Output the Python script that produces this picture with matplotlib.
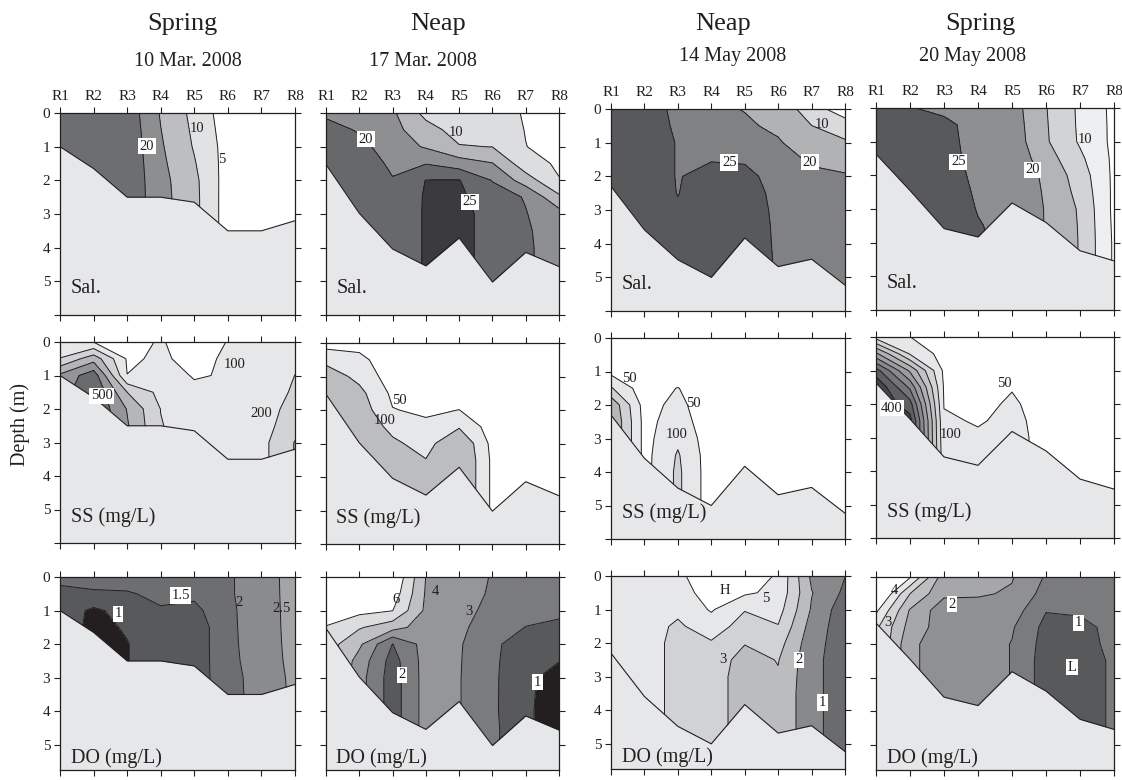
import matplotlib
matplotlib.use("Agg")
import matplotlib.pyplot as plt
import numpy as np

plt.rcParams['font.family'] = ['Liberation Serif', 'DejaVu Serif']

# stations along the river and the depth rows of every grid
STATIONS = [1, 2, 3, 4, 5, 6, 7, 8]
STATION_NAMES = ['R1', 'R2', 'R3', 'R4', 'R5', 'R6', 'R7', 'R8']
DEPTHS = [0.0, 0.5, 1.0, 1.5, 2.0, 2.5, 3.0, 3.5, 4.0, 4.5, 6.0]

TIDES = ['Spring', 'Neap', 'Neap', 'Spring']
DATES = ['10 Mar. 2008', '17 Mar. 2008', '14 May 2008', '20 May 2008']
VARIABLES = ['Sal.', 'SS (mg/L)', 'DO (mg/L)']

# river bed depth (m) under each station
BOTTOM_MAR10 = [1.0, 1.65, 2.5, 2.5, 2.65, 3.5, 3.5, 3.2]
BOTTOM_MAR17 = [1.53, 2.98, 4.04, 4.54, 3.71, 5.02, 4.14, 4.56]
BOTTOM_MAY14 = [2.3, 3.59, 4.48, 5.0, 3.83, 4.68, 4.46, 5.23]
BOTTOM_MAY20 = [1.37, 2.45, 3.58, 3.83, 2.82, 3.4, 4.24, 4.54]

# salinity, rows = DEPTHS, columns = STATIONS
SAL_MAR10 = [
    [24.0, 24.0, 23.1, 14.6, 8.6, 2.2, 0.5, 0.3],
    [24.0, 24.0, 23.4, 15.1, 9.1, 2.6, 0.5, 0.3],
    [24.0, 24.0, 23.7, 15.6, 9.6, 3.0, 0.5, 0.3],
    [24.0, 24.0, 23.8, 16.1, 10.4, 2.9, 0.5, 0.3],
    [24.0, 24.0, 23.8, 16.6, 11.2, 2.7, 0.5, 0.3],
    [24.0, 24.0, 23.8, 16.8, 11.4, 2.6, 0.5, 0.3],
    [24.0, 24.0, 23.8, 16.8, 11.4, 2.6, 0.5, 0.3],
    [24.0, 24.0, 23.8, 16.8, 11.4, 2.6, 0.5, 0.3],
    [24.0, 24.0, 23.8, 16.8, 11.4, 2.6, 0.5, 0.3],
    [24.0, 24.0, 23.8, 16.8, 11.4, 2.6, 0.5, 0.3],
    [24.0, 24.0, 23.8, 16.8, 11.4, 2.6, 0.5, 0.3],
]
SAL_MAR17 = [
    [19.0, 17.0, 15.8, 8.5, 6.0, 6.5, 4.7, 2.0],
    [22.0, 19.5, 16.5, 12.0, 8.0, 8.5, 4.8, 2.5],
    [23.0, 21.5, 17.5, 14.5, 10.3, 9.9, 5.1, 3.0],
    [23.0, 23.0, 19.0, 19.8, 17.5, 15.2, 7.0, 4.3],
    [23.0, 23.5, 20.3, 25.1, 25.2, 19.8, 12.5, 5.2],
    [23.0, 24.0, 21.0, 25.5, 26.0, 22.0, 19.7, 11.0],
    [23.0, 24.0, 21.3, 25.5, 26.0, 23.8, 20.2, 17.0],
    [23.0, 24.0, 21.3, 25.5, 26.0, 23.8, 20.5, 18.0],
    [23.0, 24.0, 21.3, 25.5, 26.0, 23.8, 20.5, 18.5],
    [23.0, 24.0, 21.3, 25.5, 26.0, 23.8, 20.5, 18.5],
    [23.0, 24.0, 21.3, 25.5, 26.0, 23.8, 20.5, 18.5],
]
SAL_MAY14 = [
    [26.0, 26.0, 24.5, 22.0, 19.6, 15.0, 5.9, 3.85],
    [26.0, 26.0, 24.7, 23.0, 21.5, 18.0, 10.1, 6.0],
    [26.0, 26.0, 24.9, 24.0, 23.0, 21.0, 14.0, 11.0],
    [26.0, 26.0, 24.9, 24.9, 24.8, 23.0, 19.0, 16.0],
    [26.0, 26.0, 24.9, 25.6, 25.5, 24.3, 21.5, 21.0],
    [26.0, 26.0, 24.95, 26.0, 26.0, 24.4, 22.5, 22.0],
    [26.0, 26.0, 25.2, 26.0, 26.0, 24.6, 23.0, 22.0],
    [26.0, 26.0, 26.0, 26.0, 26.0, 24.7, 23.0, 22.0],
    [26.0, 26.0, 26.0, 26.0, 26.0, 24.75, 23.0, 22.0],
    [26.0, 26.0, 26.0, 26.0, 26.0, 24.8, 23.0, 22.0],
    [26.0, 26.0, 26.0, 26.0, 26.0, 24.8, 23.0, 22.0],
]
SAL_MAY20 = [
    [26.0, 25.1, 24.5, 24.0, 22.2, 15.2, 9.1, 3.8],
    [26.0, 25.5, 25.5, 24.2, 22.6, 15.4, 9.2, 3.9],
    [26.0, 26.0, 26.0, 23.8, 23.0, 15.6, 9.4, 3.9],
    [26.0, 26.0, 26.0, 24.1, 23.5, 17.3, 11.0, 4.0],
    [26.0, 26.0, 26.0, 24.5, 24.0, 18.9, 12.6, 4.0],
    [26.0, 26.0, 26.0, 24.75, 24.5, 19.3, 13.5, 4.0],
    [26.0, 26.0, 26.0, 24.92, 24.5, 19.66, 14.4, 3.9],
    [26.0, 26.0, 26.0, 25.1, 24.5, 19.7, 14.6, 4.1],
    [26.0, 26.0, 26.0, 25.2, 24.5, 19.7, 14.7, 4.3],
    [26.0, 26.0, 26.0, 25.2, 24.5, 19.7, 14.7, 4.3],
    [26.0, 26.0, 26.0, 25.2, 24.5, 19.7, 14.7, 4.3],
]

# suspended solids (mg/L)
SS_MAR10 = [
    [100.3, 98, 80, 105, 70, 102, 120, 150],
    [205, 360, 90, 110, 80, 110, 125, 180],
    [420, 560, 101, 130, 95, 105, 130, 201],
    [450, 600, 300, 170, 115, 130, 140, 215],
    [450, 600, 395, 198, 150, 140, 150, 240],
    [450, 600, 410, 205, 150, 150, 160, 260],
    [450, 600, 410, 205, 150, 150, 170, 305],
    [450, 600, 410, 205, 150, 150, 170, 305],
    [450, 600, 410, 205, 150, 150, 170, 305],
    [450, 600, 410, 205, 150, 150, 170, 305],
    [450, 600, 410, 205, 150, 150, 170, 305],
]
SS_MAR17 = [
    [30, 30, 10, 5, 5, 5, 5, 5],
    [85, 65, 15, 10, 10, 5, 5, 5],
    [130, 85, 25, 15, 15, 5, 5, 5],
    [140, 115, 40, 25, 25, 10, 5, 5],
    [140, 130, 52, 42, 50.5, 20, 5, 5],
    [140, 140, 85, 60, 95, 26, 5, 5],
    [140, 140, 110, 80, 150, 35, 5, 5],
    [140, 140, 125, 102, 160, 40, 5, 5],
    [140, 140, 130, 115, 160, 40, 5, 5],
    [140, 140, 130, 125, 160, 40, 5, 5],
    [140, 140, 130, 125, 160, 40, 5, 5],
]
SS_MAY14 = [
    [5, 5, 5, 5, 5, 5, 5, 5],
    [10, 5, 5, 5, 5, 5, 5, 5],
    [35, 10, 10, 5, 5, 5, 5, 5],
    [105, 20, 52, 8, 5, 5, 5, 5],
    [190, 30, 65, 13, 5, 5, 5, 5],
    [204, 34, 75, 18, 5, 5, 5, 5],
    [204, 34, 90, 22, 5, 5, 5, 5],
    [204, 34, 105, 23, 5, 5, 5, 5],
    [204, 34, 110, 23, 5, 5, 5, 5],
    [204, 34, 110, 23, 5, 5, 5, 5],
    [204, 34, 110, 23, 5, 5, 5, 5],
]
SS_MAY20 = [
    [80, 50.5, 20, 10, 10, 5, 5, 5],
    [260, 95, 30, 15, 15, 5, 5, 5],
    [420, 240, 40, 20, 25, 10, 5, 5],
    [500, 340, 45, 30, 48, 20, 5, 5],
    [500, 420, 48, 40, 55, 35, 5, 5],
    [500, 470, 55, 47, 58, 39, 5, 5],
    [500, 470, 60, 55, 60, 40, 5, 5],
    [500, 470, 65, 60, 60, 40, 5, 5],
    [500, 470, 65, 60, 60, 40, 5, 5],
    [500, 470, 65, 60, 60, 40, 5, 5],
    [500, 470, 65, 60, 60, 40, 5, 5],
]

# dissolved oxygen (mg/L)
DO_MAR10 = [
    [1.65, 1.65, 1.60, 1.60, 1.65, 1.95, 2.20, 2.76],
    [1.35, 1.45, 1.48, 1.55, 1.62, 1.95, 2.20, 2.75],
    [1.30, 0.90, 1.20, 1.48, 1.35, 1.93, 2.19, 2.74],
    [1.30, 0.85, 1.05, 1.35, 1.15, 1.93, 2.17, 2.74],
    [1.30, 0.85, 0.98, 1.30, 1.15, 1.93, 2.15, 2.73],
    [1.30, 0.85, 0.98, 1.30, 1.15, 1.92, 2.14, 2.70],
    [1.30, 0.85, 0.98, 1.30, 1.15, 1.90, 2.12, 2.65],
    [1.30, 0.85, 0.98, 1.30, 1.15, 1.90, 2.11, 2.63],
    [1.30, 0.85, 0.98, 1.30, 1.15, 1.90, 2.11, 2.63],
    [1.30, 0.85, 0.98, 1.30, 1.15, 1.90, 2.11, 2.63],
    [1.30, 0.85, 0.98, 1.30, 1.15, 1.90, 2.11, 2.63],
]
DO_MAR17 = [
    [7.0, 7.0, 7.0, 3.98, 3.40, 2.95, 2.60, 2.50],
    [6.8, 6.8, 6.6, 3.90, 3.35, 2.90, 2.50, 2.40],
    [6.5, 6.3, 6.02, 3.80, 3.30, 2.75, 2.30, 2.20],
    [5.95, 5.1, 4.4, 3.50, 3.20, 2.50, 1.98, 1.80],
    [5.5, 4.2, 1.98, 3.40, 3.10, 2.20, 1.50, 1.30],
    [5.5, 3.6, 1.6, 3.40, 3.07, 2.20, 1.30, 1.02],
    [5.5, 3.4, 1.5, 3.40, 3.05, 2.20, 1.15, 0.75],
    [5.5, 3.4, 1.5, 3.40, 3.05, 2.20, 1.12, 0.70],
    [5.5, 3.4, 1.5, 3.40, 3.05, 2.20, 1.10, 0.70],
    [5.5, 3.4, 1.5, 3.40, 3.05, 2.25, 1.10, 0.70],
    [5.5, 3.4, 1.5, 3.40, 3.05, 2.25, 1.10, 0.70],
]
DO_MAY14 = [
    [4.5, 4.6, 4.8, 5.6, 5.5, 4.9, 1.8, 1.02],
    [4.5, 4.6, 4.6, 5.4, 5.15, 4.75, 2.05, 0.8],
    [4.5, 4.5, 4.2, 5.1, 4.05, 4.4, 1.9, 0.4],
    [4.5, 4.4, 3.85, 4.5, 3.6, 3.95, 1.6, 0.4],
    [4.5, 4.3, 3.8, 3.9, 3.05, 3.4, 1.4, 0.45],
    [4.5, 4.3, 3.8, 3.6, 2.6, 3.05, 1.3, 0.45],
    [4.5, 4.3, 3.8, 3.5, 2.5, 2.9, 1.3, 0.45],
    [4.5, 4.3, 3.8, 3.5, 2.5, 2.8, 1.3, 0.45],
    [4.5, 4.3, 3.8, 3.5, 2.5, 2.8, 1.3, 0.45],
    [4.5, 4.3, 3.8, 3.5, 2.5, 2.8, 1.3, 0.45],
    [4.5, 4.3, 3.8, 3.5, 2.5, 2.8, 1.3, 0.45],
]
DO_MAY20 = [
    [5.0, 4.05, 2.2, 2.15, 2.03, 1.45, 1.4, 1.4],
    [4.8, 3.0, 2.1, 2.05, 1.95, 1.3, 1.3, 1.35],
    [4.1, 2.45, 1.7, 1.8, 1.75, 1.02, 1.1, 1.3],
    [3.6, 2.3, 1.75, 1.75, 1.55, 0.85, 0.8, 1.2],
    [3.6, 2.1, 1.75, 1.75, 1.48, 0.8, 0.75, 1.17],
    [3.6, 2.1, 1.75, 1.75, 1.48, 0.75, 0.75, 1.08],
    [3.6, 2.1, 1.75, 1.75, 1.48, 0.75, 0.75, 1.08],
    [3.6, 2.1, 1.75, 1.75, 1.48, 0.75, 0.75, 1.08],
    [3.6, 2.1, 1.75, 1.75, 1.48, 0.75, 0.75, 1.08],
    [3.6, 2.1, 1.75, 1.75, 1.48, 0.75, 0.75, 1.08],
    [3.6, 2.1, 1.75, 1.75, 1.48, 0.75, 0.75, 1.08],
]

# contour levels of each panel
LEVELS_SAL = [[5, 10, 15, 20], [5, 10, 15, 20, 25], [5, 10, 20, 25], [5, 10, 15, 20, 25]]
LEVELS_SS = [[100, 200, 300, 400, 500], [50, 100], [50, 100, 150],
             [50, 100, 150, 200, 250, 300, 350, 400, 450]]
LEVELS_DO = [[1, 1.5, 2, 2.5], [1, 2, 3, 4, 5, 6], [1, 2, 3, 4, 5],
             [1, 1.5, 2, 2.5, 3, 3.5, 4]]

# contour labels: text, station position, depth, boxed
LABELS_SAL = [
    [('20', 3.59, 0.99, True), ('10', 5.08, 0.45, False), ('5', 5.82, 1.37, False)],
    [('20', 2.2, 0.78, True), ('10', 4.9, 0.58, False), ('25', 5.33, 2.64, True)],
    [('25', 4.54, 1.59, True), ('20', 6.95, 1.58, True), ('10', 7.3, 0.47, False)],
    [('25', 3.42, 1.6, True), ('20', 5.6, 1.84, True), ('10', 7.14, 0.95, False)],
]
LABELS_SS = [
    [('100', 6.2, 0.67, False), ('500', 2.24, 1.61, True), ('200', 7.0, 2.13, False)],
    [('50', 3.2, 1.72, False), ('100', 2.75, 2.3, False)],
    [('50', 1.56, 1.21, False), ('50', 3.47, 1.97, False), ('100', 2.95, 2.89, False)],
    [('400', 1.47, 2.12, True), ('100', 3.21, 2.9, False), ('50', 4.78, 1.38, False)],
]
LABELS_DO = [
    [('1.5', 4.59, 0.55, True), ('1', 2.73, 1.1, True), ('2', 6.34, 0.75, False),
     ('2.5', 7.61, 0.95, False)],
    [('6', 3.09, 0.68, False), ('4', 4.3, 0.43, False), ('3', 5.29, 1.03, False),
     ('2', 3.29, 2.91, True), ('1', 7.36, 3.13, True)],
    [('H', 4.41, 0.44, False), ('5', 5.64, 0.66, False), ('3', 4.36, 2.5, False),
     ('2', 6.62, 2.5, True), ('1', 7.33, 3.77, True)],
    [('4', 1.55, 0.41, False), ('3', 1.35, 1.37, False), ('2', 3.23, 0.81, True),
     ('1', 6.96, 1.37, True), ('L', 6.76, 2.69, True)],
]

BOTTOMS = [BOTTOM_MAR10, BOTTOM_MAR17, BOTTOM_MAY14, BOTTOM_MAY20]
GRIDS = [[SAL_MAR10, SAL_MAR17, SAL_MAY14, SAL_MAY20],
         [SS_MAR10, SS_MAR17, SS_MAY14, SS_MAY20],
         [DO_MAR10, DO_MAR17, DO_MAY14, DO_MAY20]]
LEVELS = [LEVELS_SAL, LEVELS_SS, LEVELS_DO]
LABELS = [LABELS_SAL, LABELS_SS, LABELS_DO]

# grey fills, low to high value
INK = '#231f20'
BED = '#e6e7e8'
FILLS = [
    [['white', '#e1e2e3', '#bdbec0', '#8d8e90', '#6d6e70'],
     ['white', '#dcdddf', '#b6b7b9', '#8e8f91', '#67686a', '#3b3b3d'],
     ['white', '#d9dadb', '#b1b2b4', '#808183', '#58595b'],
     ['white', '#eeeff0', '#d2d3d4', '#b3b4b6', '#8e8f91', '#58595b']],
    [['white', BED, '#d2d3d4', '#b5b6b8', '#949597', '#6a6b6d'],
     ['white', BED, '#bcbdbf'],
     ['white', BED, '#d0d1d2', '#b6b7b9'],
     ['white', BED, '#d4d5d6', '#c2c3c5', '#afb0b2', '#9c9d9f', '#898a8c',
      '#747577', '#5e5f61', '#454648']],
    [['#231f20', '#58595b', '#6d6e70', '#8a8b8d', '#a3a4a6'],
     ['#231f20', '#58595b', '#7a7b7d', '#959698', '#bfc0c2', '#dcdddf', 'white'],
     ['#6a6b6d', '#88898b', '#bbbcbe', '#d1d2d3', BED, 'white'],
     ['#58595b', '#7a7b7d', '#8f9092', '#a6a7a9', '#bdbec0', '#d3d4d5', BED, 'white']],
]


def main():
    W, H = 1122, 780
    fig = plt.figure(figsize=(W / 100, H / 100), dpi=100)

    col_left = [60, 326, 611, 876]
    col_width = [235, 233, 234, 238]
    row_top = [[113, 113, 109, 108], [342, 343, 338, 337], [577, 577, 576, 577]]
    row_height = [202, 201, 193]
    row_depth = [6.0, 6.0, 5.75]
    name_y = [0.13, 0.13, 0.06]

    X, Y = np.meshgrid(STATIONS, DEPTHS)

    for r in range(3):
        for c in range(4):
            top = row_top[r][c]
            h = row_height[r]
            ax = fig.add_axes([col_left[c] / W, 1 - (top + h) / H,
                               col_width[c] / W, h / H])
            Z = np.array(GRIDS[r][c], dtype=float)
            lv = LEVELS[r][c]
            ax.contourf(X, Y, Z, levels=[-1e5] + lv + [1e5], colors=FILLS[r][c],
                        zorder=1)
            ax.contour(X, Y, Z, levels=lv, colors=INK, linewidths=0.7, zorder=2)

            bottom = BOTTOMS[c]
            ax.fill_between(STATIONS, bottom, 7, color=BED, lw=0, zorder=3)
            ax.plot(STATIONS, bottom, color=INK, lw=0.8, zorder=4)

            for txt, s, d, boxed in LABELS[r][c]:
                kw = {}
                if boxed:
                    kw['bbox'] = dict(facecolor='white', edgecolor='none', pad=1.2)
                ax.text(s, d, txt, fontsize=10.5, color=INK, ha='center',
                        va='center', zorder=5, **kw)

            ax.text(0.045, name_y[r], VARIABLES[r], transform=ax.transAxes,
                    fontsize=14.5, color=INK, va='center', zorder=6)

            ax.set_xlim(1, 8)
            ax.set_ylim(row_depth[r], 0)
            ax.set_xticks(STATIONS)
            ax.set_xticklabels(STATION_NAMES)
            yt = [t for t in range(7) if t <= row_depth[r]]
            ax.set_yticks(yt)
            ax.set_yticklabels([str(t) if t < 6 else '' for t in yt])
            ax.tick_params(direction='out', length=4, width=0.8, color=INK,
                           labelcolor=INK, labelsize=11, pad=3,
                           top=True, right=True, bottom=True, left=True,
                           labeltop=(r == 0), labelbottom=False,
                           labelleft=(c in (0, 2)), labelright=False)
            for sp in ax.spines.values():
                sp.set_zorder(6)
                sp.set_linewidth(0.9)
                sp.set_color(INK)

    # column headings
    tide_x = [182, 438, 723, 980]
    date_x = [188, 423, 733, 973]
    date_y = [62, 62, 57, 57]
    for c in range(4):
        fig.text(tide_x[c] / W, 1 - 24 / H, TIDES[c], fontsize=19, color=INK,
                 ha='center', va='center')
        fig.text(date_x[c] / W, 1 - date_y[c] / H, DATES[c], fontsize=14.5,
                 color=INK, ha='center', va='center')

    fig.text(20 / W, 1 - 425 / H, 'Depth (m)', fontsize=14.5, color=INK,
             rotation=90, ha='center', va='center')

    fig.savefig('out.png', dpi=100)


if __name__ == "__main__":
    main()
